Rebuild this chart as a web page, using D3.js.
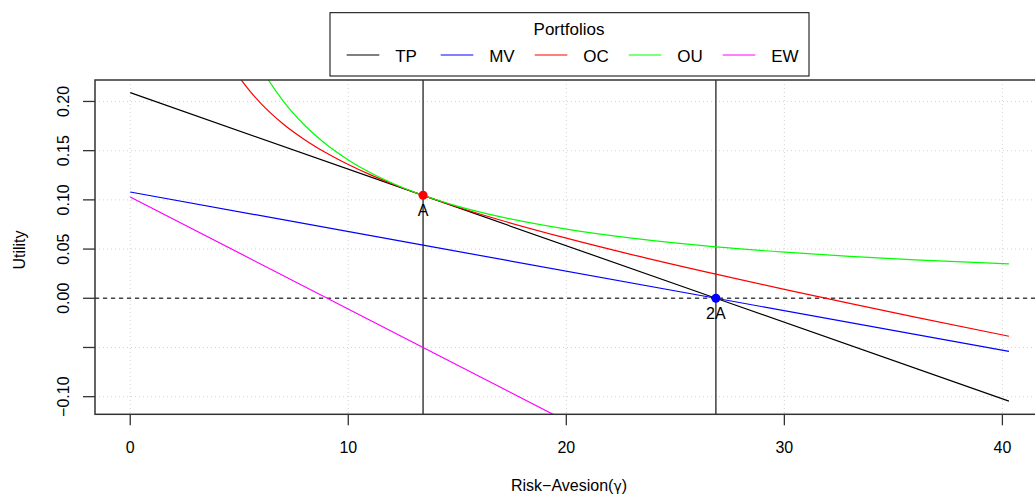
<!DOCTYPE html>
<html>
<head>
<meta charset="utf-8">
<script src="https://cdn.jsdelivr.net/npm/d3@7"></script>
<style>
  html, body { margin: 0; padding: 0; background: #fff; }
  svg { display: block; font-family: "Liberation Sans", Arial, Helvetica, sans-serif; }
</style>
</head>
<body>
<svg id="chart" width="1035" height="498"></svg>
<script>
// ---- data ----
const seriesNames = ["TP", "MV", "OC", "OU", "EW"];
const seriesColors = ["#000000", "#0000FF", "#FF0000", "#00FF00", "#FF00FF"];

// straight-line portfolios, values at gamma = 0, A, 2A, 3A
const gammaLin = [0, 13.43, 26.86, 40.3];
const tpValues = [0.209, 0.1045, 0.0, -0.1045];
const mvValues = [0.108, 0.054, 0.0, -0.054];
const ewValues = [0.103, -0.050, -0.203, -0.356];

// curved portfolios
const gammaCurve = [4, 4.5, 5, 5.5, 6, 7, 8, 9, 10, 11, 12, 13.43, 15, 17, 20, 23, 26.86, 30, 33, 36, 40.3];
const ocValues = [0.2630, 0.2420, 0.2247, 0.2102, 0.1978, 0.1774, 0.1612, 0.1476, 0.1359, 0.1256, 0.1164,
                  0.1045, 0.0928, 0.0793, 0.0611, 0.0444, 0.0245, 0.0090, -0.0052, -0.0191, -0.0386];
const ouValues = [0.3515, 0.3124, 0.2812, 0.2556, 0.2343, 0.2009, 0.1758, 0.1562, 0.1406, 0.1278, 0.1172,
                  0.1047, 0.0937, 0.0827, 0.0703, 0.0611, 0.0523, 0.0469, 0.0426, 0.0391, 0.0349];

// marked points
const markGamma = [13.43, 26.86];
const markUtility = [0.1047, 0.0];
const markLabels = ["A", "2A"];
const markColors = ["#FF0000", "#0000FF"];

// axes
const xTicks = [0, 10, 20, 30, 40];
const yTicks = [-0.10, -0.05, 0.00, 0.05, 0.10, 0.15, 0.20];
const yTickLabels = ["\u22120.10", "", "0.00", "0.05", "0.10", "0.15", "0.20"];
const xTitle = "Risk\u2212Avesion(";
const yTitle = "Utility";
const legendTitle = "Portfolios";

// ---- layout ----
const svg = d3.select("#chart");
const box = { left: 95, top: 80, right: 1046, bottom: 414.3 };

const x = d3.scaleLinear().domain([-1.616, 42.0]).range([box.left, box.right]);
const y = d3.scaleLinear().domain([-0.1179, 0.2218]).range([box.bottom, box.top]);

svg.append("defs").append("clipPath").attr("id", "plotclip")
  .append("rect")
  .attr("x", box.left).attr("y", box.top)
  .attr("width", box.right - box.left).attr("height", box.bottom - box.top);

// grid (dotted)
const grid = svg.append("g").attr("stroke", "#d3d3d3").attr("stroke-width", 1).attr("stroke-dasharray", "1,3");
grid.selectAll("line.vx").data(xTicks).join("line")
  .attr("x1", d => x(d)).attr("x2", d => x(d))
  .attr("y1", box.top).attr("y2", box.bottom);
grid.selectAll("line.hy").data(yTicks).join("line")
  .attr("x1", box.left).attr("x2", box.right)
  .attr("y1", d => y(d)).attr("y2", d => y(d));

const plot = svg.append("g").attr("clip-path", "url(#plotclip)");

// zero reference (dashed)
plot.append("line")
  .attr("x1", box.left).attr("x2", box.right)
  .attr("y1", y(0)).attr("y2", y(0))
  .attr("stroke", "#444").attr("stroke-width", 1.3).attr("stroke-dasharray", "4,4");

// vertical lines at A and 2A
plot.selectAll("line.vmark").data(markGamma).join("line")
  .attr("x1", d => x(d)).attr("x2", d => x(d))
  .attr("y1", box.top).attr("y2", box.bottom)
  .attr("stroke", "#333").attr("stroke-width", 1.4);

const line = d3.line().x(d => x(d[0])).y(d => y(d[1]));
const curveLine = d3.line().x(d => x(d[0])).y(d => y(d[1])).curve(d3.curveMonotoneX);

const series = [
  { name: "TP", g: gammaLin, v: tpValues, gen: line },
  { name: "MV", g: gammaLin, v: mvValues, gen: line },
  { name: "OC", g: gammaCurve, v: ocValues, gen: curveLine },
  { name: "OU", g: gammaCurve, v: ouValues, gen: curveLine },
  { name: "EW", g: gammaLin, v: ewValues, gen: line }
];
series.forEach(s => {
  const pts = s.g.map((g, i) => [g, s.v[i]]);
  plot.append("path")
    .attr("d", s.gen(pts))
    .attr("fill", "none")
    .attr("stroke", seriesColors[seriesNames.indexOf(s.name)])
    .attr("stroke-width", 1.2);
});

// points and labels
markGamma.forEach((g, i) => {
  svg.append("circle").attr("cx", x(g)).attr("cy", y(markUtility[i])).attr("r", 4.5)
    .attr("fill", markColors[i]);
  svg.append("text").attr("x", x(g)).attr("y", y(markUtility[i]) + 21)
    .attr("text-anchor", "middle").attr("font-size", 16).attr("fill", "#000")
    .text(markLabels[i]);
});

// box
svg.append("rect")
  .attr("x", box.left).attr("y", box.top)
  .attr("width", box.right - box.left).attr("height", box.bottom - box.top)
  .attr("fill", "none").attr("stroke", "#333").attr("stroke-width", 1.5);

// x axis
const xAxis = svg.append("g");
xAxis.selectAll("line").data(xTicks).join("line")
  .attr("x1", d => x(d)).attr("x2", d => x(d))
  .attr("y1", box.bottom).attr("y2", box.bottom + 11)
  .attr("stroke", "#333").attr("stroke-width", 1.3);
xAxis.selectAll("text").data(xTicks).join("text")
  .attr("x", d => x(d)).attr("y", 453)
  .attr("text-anchor", "middle").attr("font-size", 16)
  .text(d => d3.format("d")(d));

// y axis
const yAxis = svg.append("g");
yAxis.selectAll("line").data(yTicks).join("line")
  .attr("x1", box.left - 12).attr("x2", box.left)
  .attr("y1", d => y(d)).attr("y2", d => y(d))
  .attr("stroke", "#333").attr("stroke-width", 1.3);
yAxis.selectAll("text").data(yTicks).join("text")
  .attr("transform", d => `translate(69,${y(d)}) rotate(-90)`)
  .attr("text-anchor", "middle").attr("font-size", 16)
  .text((d, i) => yTickLabels[i]);

// axis titles
const xt = svg.append("text").attr("x", 569).attr("y", 491)
  .attr("text-anchor", "middle").attr("font-size", 16);
xt.append("tspan").text(xTitle);
xt.append("tspan").attr("font-family", "DejaVu Sans").attr("font-size", 14).text("\u03B3");
xt.append("tspan").text(")");

svg.append("text").attr("transform", "translate(25,250) rotate(-90)")
  .attr("text-anchor", "middle").attr("font-size", 16).text(yTitle);

// legend
const lg = svg.append("g");
lg.append("rect").attr("x", 330).attr("y", 12.7).attr("width", 479).attr("height", 63.3)
  .attr("fill", "#fff").attr("stroke", "#000").attr("stroke-width", 1);
lg.append("text").attr("x", 569).attr("y", 35).attr("text-anchor", "middle")
  .attr("font-size", 17).text(legendTitle);
seriesNames.forEach((name, i) => {
  const x0 = 346.7 + i * 94;
  lg.append("line").attr("x1", x0).attr("x2", x0 + 32.6).attr("y1", 55).attr("y2", 55)
    .attr("stroke", seriesColors[i]).attr("stroke-width", 1.2);
  lg.append("text").attr("x", x0 + 48.5).attr("y", 61.5).attr("font-size", 17).text(name);
});
</script>
</body>
</html>
